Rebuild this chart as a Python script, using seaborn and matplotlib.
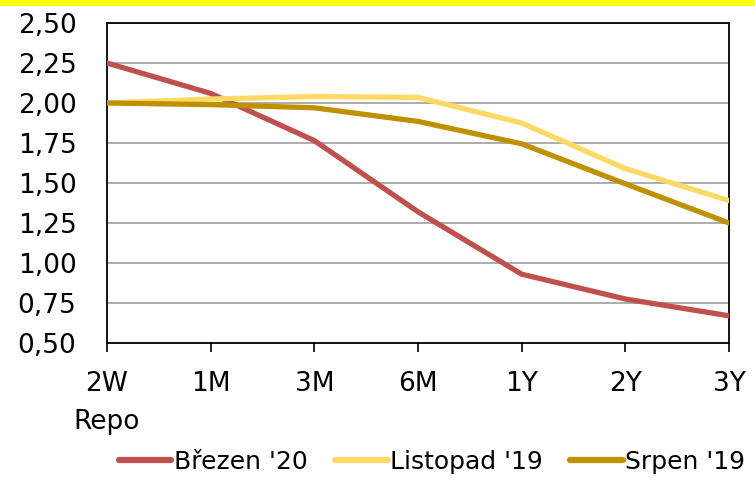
import matplotlib
matplotlib.use("Agg")
import matplotlib.pyplot as plt
import seaborn as sns
import pandas as pd
from matplotlib.patches import Rectangle
from matplotlib.ticker import FixedLocator, FuncFormatter

# Yield curve: maturities and three snapshots
maturities = ["2W", "1M", "3M", "6M", "1Y", "2Y", "3Y"]
brezen_20 = [2.25, 2.06, 1.765, 1.32, 0.93, 0.775, 0.67]
listopad_19 = [2.00, 2.025, 2.04, 2.035, 1.875, 1.59, 1.39]
srpen_19 = [2.00, 1.99, 1.97, 1.885, 1.745, 1.495, 1.25]
series_names = ["Březen '20", "Listopad '19", "Srpen '19"]
series_colors = ["#C0504D", "#FFD966", "#BF9000"]
y_ticks = [0.50, 0.75, 1.00, 1.25, 1.50, 1.75, 2.00, 2.25, 2.50]

sns.set_theme(style="white")
plt.rcParams["font.family"] = ["DejaVu Sans"]
plt.rcParams["text.color"] = "black"

frames = []
for name, vals in zip(series_names, [brezen_20, listopad_19, srpen_19]):
    frames.append(pd.DataFrame({"pos": range(len(maturities)), "value": vals,
                                "series": name}))
df = pd.concat(frames, ignore_index=True)

fig = plt.figure(figsize=(7.55, 4.88), dpi=100)
ax = fig.add_axes([107 / 755, 1 - 343 / 488, (729 - 107) / 755, (343 - 23) / 488])

# yellow band along the top edge
fig.patches.append(Rectangle((0, 1 - 6 / 488), 1, 6 / 488, transform=fig.transFigure,
                             facecolor="#FFFF00", edgecolor="none", zorder=0))

sns.lineplot(data=df, x="pos", y="value", hue="series", hue_order=series_names,
             palette=series_colors, linewidth=3.8, sort=False, ax=ax,
             legend=False, zorder=3)

ax.set_xlim(0, len(maturities) - 1)
ax.set_ylim(0.5, 2.5)
ax.yaxis.set_major_locator(FixedLocator(y_ticks))
ax.yaxis.set_major_formatter(FuncFormatter(lambda v, p: f"{v:.2f}".replace(".", ",")))
ax.set_xticks(range(len(maturities)))
labels = list(maturities)
labels[0] = "2W\nRepo"
ax.set_xticklabels(labels)
for t in ax.get_xticklabels():
    t.set_linespacing(1.6)

ax.grid(axis="y", color="#A6A6A6", linewidth=1.3, zorder=1)
ax.grid(axis="x", visible=False)
ax.set_axisbelow(True)
for s in ax.spines.values():
    s.set_visible(True)
    s.set_color("black")
    s.set_linewidth(1.3)

ax.tick_params(axis="y", length=0, pad=22, labelsize=19, colors="black")
ax.tick_params(axis="x", length=6.5, width=1.2, direction="out", bottom=True,
               pad=14, labelsize=19, colors="black")
ax.set_xlabel("")
ax.set_ylabel("")

handles = [plt.Line2D([], [], color=c, linewidth=4.5, solid_capstyle="round")
           for c in series_colors]
leg = fig.legend(handles, series_names, loc="center",
                 bbox_to_anchor=(432 / 755, 1 - 462 / 488),
                 ncol=3, frameon=False, fontsize=18, handlelength=2.1,
                 handletextpad=0.1, columnspacing=1.1, borderaxespad=0, borderpad=0)
for t in leg.get_texts():
    t.set_color("black")

fig.savefig("out.png", dpi=100, facecolor="white")
